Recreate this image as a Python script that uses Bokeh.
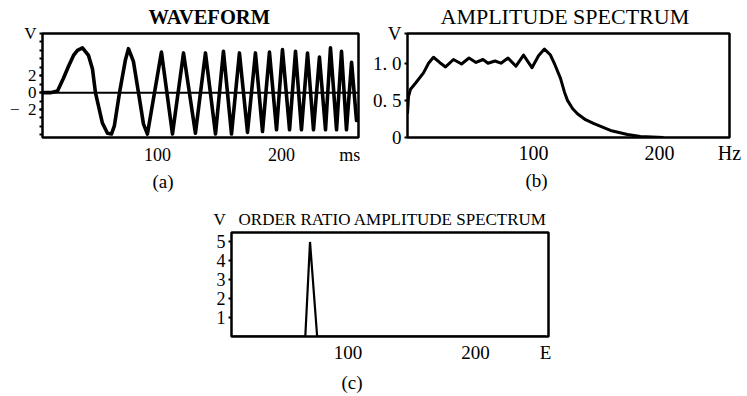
from bokeh.plotting import figure
from bokeh.models import Span, FixedTicker, Range1d, Spacer, Title
from bokeh.layouts import row, column
from bokeh.embed import file_html
from bokeh.resources import INLINE

FONT = "Liberation Serif"
NB = "\u00a0"

# ---------------- data: (a) waveform ----------------
wave_t = [7.3, 13.7, 19.4, 24.2, 28.2, 32.3, 35.5, 39.5, 44.4, 47.6, 50.0, 55.6,
          59.7, 62.9, 65.3, 69.4, 74.2, 76.6, 80.6, 84.7, 88.7, 91.9,
          103.2, 112.1, 121.0, 130.6, 138.7, 146.8, 153.2, 159.7, 166.1, 172.6,
          179.0, 184.7, 190.3, 196.0, 200.8, 206.5, 211.3, 216.1, 221.0, 225.8,
          230.6, 235.5, 239.5, 244.4, 248.4, 252.4, 256.5, 260.5, 262.1]
wave_v = [0.0, 0.0, 0.2, 1.7, 3.1, 4.4, 5.0, 5.3, 4.4, 2.8, 0.0, -3.6,
          -4.8, -4.9, -3.9, 0.0, 3.9, 5.2, 3.7, 0.0, -3.7, -4.9,
          4.8, -4.9, 4.7, -4.8, 4.7, -4.9, 4.9, -4.9, 4.7, -4.7,
          4.7, -4.6, 4.8, -4.4, 5.1, -4.4, 4.9, -4.4, 4.7, -4.4,
          4.2, -4.4, 5.3, -4.4, 4.9, -4.4, 3.6, -3.3, -3.3]
wave_xticks = [100, 200, 255]
wave_xlabels = {100: "100", 200: "200", 255: "ms"}
wave_yticks = [-2, 0, 2, 7]
wave_ylabels = {-2: "\u2212" + NB + NB + "2", 0: "0", 2: "2", 7: "V"}
wave_minor = [-5, -4, -3, -2, -1, 0, 1, 2, 3, 4, 5, 6]

# ---------------- data: (b) amplitude spectrum ----------------
spec_f = [0, 0.8, 2.4, 6.3, 12.7, 16.7, 20.6, 25.5, 30.2, 36.5, 42.9, 48.8,
          54.4, 59.9, 63.9, 69.4, 74.2, 79.8, 86.1, 92.1, 98.8, 104.0, 108.7,
          113.5, 117.0, 121.4, 124.6, 127.0, 131.0, 134.9, 141.3, 147.6, 161.1,
          174.6, 184.9, 203.2]
spec_a = [0.32, 0.55, 0.65, 0.73, 0.87, 1.0, 1.08, 1.01, 0.95, 1.05, 0.99, 1.07,
          1.01, 1.05, 1.00, 1.03, 1.00, 1.07, 0.96, 1.11, 0.94, 1.10, 1.19,
          1.11, 0.98, 0.80, 0.61, 0.50, 0.39, 0.32, 0.24, 0.19, 0.095,
          0.04, 0.014, 0.0]
spec_xticks = [100, 200, 255.6]
spec_xlabels = {100: "100", 200: "200", 255.6: "Hz"}
spec_yticks = [0, 0.5, 1, 1.4]
spec_ylabels = {0: "0", 0.5: "0. 5", 1: "1. 0", 1.4: "V"}

# ---------------- data: (c) order ratio amplitude spectrum ----------------
order_e = [10, 66.5, 70.2, 75.8, 255]
order_v = [0, 0, 5.0, 0, 0]
order_xticks = [100, 200, 255]
order_xlabels = {100: "100", 200: "200", 255: "E"}
order_yticks = [1, 2, 3, 4, 5]


def make_fig(width, height, left, right, top, bottom, xr, yr):
    p = figure(width=width, height=height, x_range=Range1d(*xr), y_range=Range1d(*yr),
               output_backend="svg", toolbar_location=None,
               min_border_left=left, min_border_right=right,
               min_border_top=top, min_border_bottom=bottom)
    p.xgrid.visible = False
    p.ygrid.visible = False
    p.outline_line_color = "black"
    p.outline_line_width = 2.5
    p.background_fill_color = "white"
    p.border_fill_color = "white"
    for ax in (p.xaxis[0], p.yaxis[0]):
        ax.axis_line_color = None
        ax.major_label_text_font = FONT
        ax.major_label_text_color = "black"
        ax.major_tick_in = 0
        ax.minor_tick_in = 0
    p.xaxis.major_tick_out = 0
    p.xaxis.minor_tick_out = 0
    p.xaxis.major_tick_line_color = None
    p.xaxis.minor_tick_line_color = None
    p.yaxis.major_tick_out = 3
    p.yaxis.minor_tick_out = 0
    p.yaxis.major_tick_line_width = 2
    p.yaxis.major_tick_line_color = "black"
    p.yaxis.minor_tick_line_color = None
    return p


def add_title(p, text, side, size, offset, standoff, valign="bottom", style="normal"):
    p.add_layout(Title(text=text, align="left", offset=offset, standoff=standoff,
                       vertical_align=valign,
                       text_font=FONT, text_font_size=f"{size}px",
                       text_font_style=style, text_color="black"), side)


# ---------- panel (a) ----------
xa, ya = (7.3, 262.1), (-5.31, 7.0)
pa = make_fig(363, 198, 42, 5, 33, 56, xa, ya)
pa.xaxis.ticker = FixedTicker(ticks=wave_xticks)
pa.xaxis.major_label_overrides = wave_xlabels
pa.yaxis.ticker = FixedTicker(ticks=wave_yticks, minor_ticks=wave_minor)
pa.yaxis.major_label_overrides = wave_ylabels
pa.yaxis.minor_tick_line_color = "black"
pa.yaxis.minor_tick_out = 3
pa.yaxis.minor_tick_line_width = 2
pa.xaxis.major_label_text_font_size = "18px"
pa.yaxis.major_label_text_font_size = "17px"
pa.xaxis.major_label_standoff = 7
pa.yaxis.major_label_standoff = 3
pa.add_layout(Span(location=0, dimension="width", line_color="black", line_width=2))
pa.line(wave_t, wave_v, line_color="black", line_width=3.6, line_join="round")
add_title(pa, "WAVEFORM", "above", 20.5, 106, 7, valign="top", style="bold")
add_title(pa, "(a)", "below", 19, 110, 3)

# ---------- panel (b) ----------
xb, yb = (0, 255.6), (0, 1.4)
pb = make_fig(384, 198, 44, 18, 33, 61, xb, yb)
pb.xaxis.ticker = FixedTicker(ticks=spec_xticks)
pb.xaxis.major_label_overrides = spec_xlabels
pb.yaxis.ticker = FixedTicker(ticks=spec_yticks)
pb.yaxis.major_label_overrides = spec_ylabels
pb.xaxis.major_label_text_font_size = "20px"
pb.yaxis.major_label_text_font_size = "19px"
pb.xaxis.major_label_standoff = 4
pb.yaxis.major_label_standoff = 3
pb.line(spec_f, spec_a, line_color="black", line_width=3, line_join="round")
add_title(pb, "AMPLITUDE SPECTRUM", "above", 22, 33, 6, valign="top")
add_title(pb, "(b)", "below", 19, 118, 2)

# ---------- panel (c) ----------
xc, yc = (8.6, 257.3), (0, 5.5)
pc = make_fig(367, 198, 40, 10, 34, 56, xc, yc)
pc.xaxis.ticker = FixedTicker(ticks=order_xticks)
pc.xaxis.major_label_overrides = order_xlabels
pc.yaxis.ticker = FixedTicker(ticks=order_yticks)
pc.xaxis.major_label_text_font_size = "19px"
pc.yaxis.major_label_text_font_size = "18px"
pc.xaxis.major_label_standoff = 5
pc.yaxis.major_label_standoff = 3
pc.line(order_e, order_v, line_color="black", line_width=2.2, line_join="miter")
add_title(pc, "V" + NB * 3 + "ORDER RATIO AMPLITUDE SPECTRUM", "above", 17, -18, 3, valign="top")
add_title(pc, "(c)", "below", 19, 110, 8)

layout = column(row(pa, pb), row(Spacer(width=191, height=198), pc))
open("out.html", "w").write(file_html(layout, INLINE))
